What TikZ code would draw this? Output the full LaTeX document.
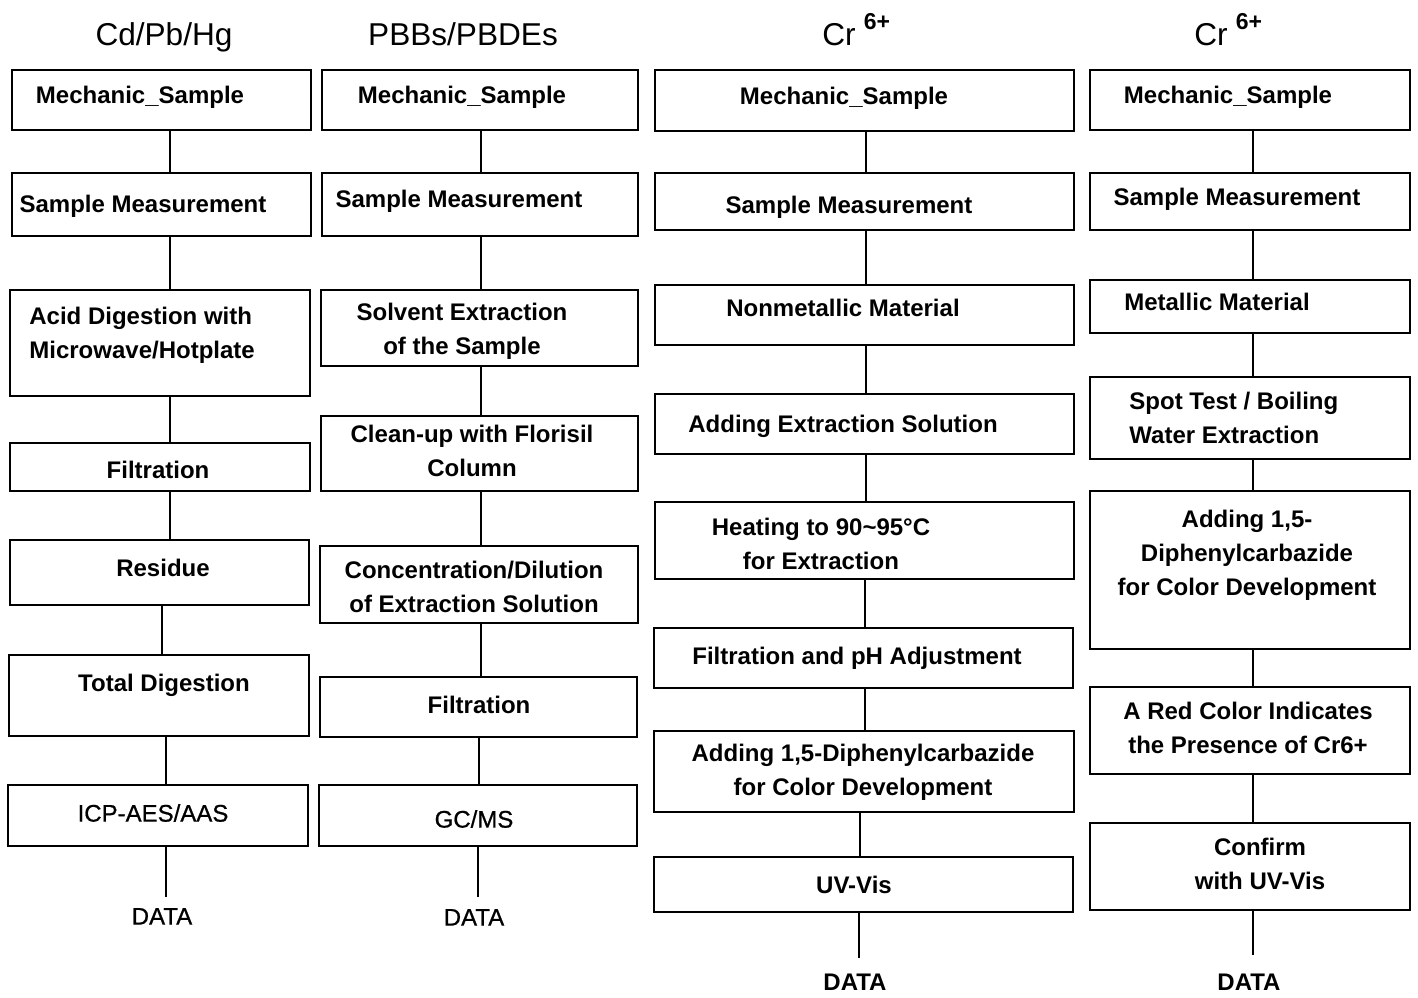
\documentclass[tikz,border=0pt]{standalone}
\usepackage{fontspec}
\setmainfont{Liberation Sans}
\newfontfamily\medfont[FakeBold=0.8]{Liberation Sans}
\usetikzlibrary{fit}
\tikzset{
  box/.style={draw, line width=0.8pt, inner sep=0pt, rectangle},
  txt/.style={font=\fontsize{12}{17}\selectfont\bfseries, inner sep=0pt, text height=8.6pt, text depth=0pt},
  mtxt/.style={font=\fontsize{12}{17}\selectfont\bfseries, inner sep=0pt, align=center},
  ltxt/.style={font=\fontsize{12}{17}\selectfont\bfseries, inner sep=0pt, align=left},
  rtxt/.style={font=\fontsize{12}{17}\selectfont\medfont, inner sep=0pt, text height=8.6pt, text depth=0pt},
  ttl/.style={font=\fontsize{15.8}{19}\selectfont, inner sep=0pt, text height=11.3pt, text depth=0pt},
  conn/.style={line width=0.6pt}
}
\begin{document}
\begin{tikzpicture}[x=0.5pt,y=-0.5pt]
\useasboundingbox (0,0) rectangle (1418,997);
% titles
\node[ttl] (h1) at (164,34) {Cd/Pb/Hg};
\node[ttl] (h2) at (463,34) {PBBs/PBDEs};
\node[ttl, anchor=west] (h3) at (822,34) {Cr\hspace{4pt}\raisebox{8pt}{\fontsize{11.5}{11.5}\selectfont\bfseries 6+}};
\node[ttl, anchor=west] (h4) at (1194,34) {Cr\hspace{4pt}\raisebox{8pt}{\fontsize{11.5}{11.5}\selectfont\bfseries 6+}};

% column 1
\node[box, fit={(12,70) (311,130)}] (a1) {};
\node[box, fit={(12,173) (311,236)}] (a2) {};
\node[box, fit={(10,290) (310,396)}] (a3) {};
\node[box, fit={(10,443) (310,491)}] (a4) {};
\node[box, fit={(10,540) (309,605)}] (a5) {};
\node[box, fit={(9,655) (309,736)}] (a6) {};
\node[box, fit={(8,785) (308,846)}] (a7) {};
\node[txt] (ta1) at (140,95) {Mechanic\_Sample};
\node[txt] (ta2) at (143,204) {Sample Measurement};
\node[ltxt, anchor=west] (ta3) at (29,335) {Acid Digestion with\\Microwave/Hotplate};
\node[txt] (ta4) at (158,470) {Filtration};
\node[txt] (ta5) at (163,568) {Residue};
\node[txt] (ta6) at (164,683) {Total Digestion};
\node[rtxt] (ta7) at (153,813) {ICP-AES/AAS};
\node[rtxt] (ta8) at (162,916) {DATA};
\coordinate (la) at (170,0);
\coordinate (lb) at (166,0);
\coordinate (ea) at (166,897);
\draw[conn] (a1.south -| la) -- (a2.north -| la);
\draw[conn] (a2.south -| la) -- (a3.north -| la);
\draw[conn] (a3.south -| la) -- (a4.north -| la);
\draw[conn] (a4.south -| la) -- (a5.north -| la);
\draw[conn] ([xshift=-4pt]a5.south -| la) -- ([xshift=-4pt]a6.north -| la);
\draw[conn] (a6.south -| lb) -- (a7.north -| lb);
\draw[conn] (a7.south -| ea) -- (ea);

% column 2
\node[box, fit={(322,70) (638,130)}] (b1) {};
\node[box, fit={(322,173) (638,236)}] (b2) {};
\node[box, fit={(321,290) (638,366)}] (b3) {};
\node[box, fit={(321,416) (638,491)}] (b4) {};
\node[box, fit={(320,546) (638,623)}] (b5) {};
\node[box, fit={(320,677) (637,737)}] (b6) {};
\node[box, fit={(319,785) (637,846)}] (b7) {};
\node[txt] (tb1) at (462,95) {Mechanic\_Sample};
\node[txt] (tb2) at (459,199) {Sample Measurement};
\node[mtxt] (tb3) at (462,331) {Solvent Extraction\\of the Sample};
\node[mtxt] (tb4) at (472,451) {Clean-up with Florisil\\Column};
\node[mtxt] (tb5) at (474,587) {Concentration/Dilution\\of Extraction Solution};
\node[txt] (tb6) at (479,705) {Filtration};
\node[rtxt] (tb7) at (474,819) {GC/MS};
\node[rtxt] (tb8) at (474,917) {DATA};
\coordinate (lc) at (481,0);
\coordinate (ld) at (479,0);
\coordinate (eb) at (478,897);
\draw[conn] (b1.south -| lc) -- (b2.north -| lc);
\draw[conn] (b2.south -| lc) -- (b3.north -| lc);
\draw[conn] (b3.south -| lc) -- (b4.north -| lc);
\draw[conn] (b4.south -| lc) -- (b5.north -| lc);
\draw[conn] (b5.south -| lc) -- (b6.north -| lc);
\draw[conn] (b6.south -| ld) -- (b7.north -| ld);
\draw[conn] (b7.south -| eb) -- (eb);

% column 3
\node[box, fit={(655,70) (1074,131)}] (c1) {};
\node[box, fit={(655,173) (1074,230)}] (c2) {};
\node[box, fit={(655,285) (1074,345)}] (c3) {};
\node[box, fit={(655,394) (1074,454)}] (c4) {};
\node[box, fit={(655,502) (1074,579)}] (c5) {};
\node[box, fit={(654,628) (1073,688)}] (c6) {};
\node[box, fit={(654,731) (1074,812)}] (c7) {};
\node[box, fit={(654,857) (1073,912)}] (c8) {};
\node[txt] (tc1) at (844,96) {Mechanic\_Sample};
\node[txt] (tc2) at (849,205) {Sample Measurement};
\node[txt] (tc3) at (843,308) {Nonmetallic Material};
\node[txt] (tc4) at (843,424) {Adding Extraction Solution};
\node[mtxt] (tc5) at (821,544) {Heating to 90\textasciitilde95°C\\for Extraction};
\node[txt] (tc6) at (857,656) {Filtration and pH Adjustment};
\node[mtxt] (tc7) at (863,772) {Adding 1,5-Diphenylcarbazide\\for Color Development};
\node[txt] (tc8) at (854,885) {UV-Vis};
\node[txt] (tc9) at (855,982) {DATA};
\coordinate (le) at (866,0);
\coordinate (lf) at (865,0);
\coordinate (lg) at (860,0);
\coordinate (ec) at (859,958);
\draw[conn] (c1.south -| le) -- (c2.north -| le);
\draw[conn] (c2.south -| le) -- (c3.north -| le);
\draw[conn] (c3.south -| le) -- (c4.north -| le);
\draw[conn] (c4.south -| le) -- (c5.north -| le);
\draw[conn] (c5.south -| lf) -- (c6.north -| lf);
\draw[conn] (c6.south -| lf) -- (c7.north -| lf);
\draw[conn] (c7.south -| lg) -- (c8.north -| lg);
\draw[conn] (c8.south -| ec) -- (ec);

% column 4
\node[box, fit={(1090,70) (1410,130)}] (d1) {};
\node[box, fit={(1090,173) (1410,230)}] (d2) {};
\node[box, fit={(1090,280) (1410,333)}] (d3) {};
\node[box, fit={(1090,377) (1410,459)}] (d4) {};
\node[box, fit={(1090,491) (1410,649)}] (d5) {};
\node[box, fit={(1090,687) (1410,774)}] (d6) {};
\node[box, fit={(1090,823) (1410,910)}] (d7) {};
\node[txt] (td1) at (1228,95) {Mechanic\_Sample};
\node[txt] (td2) at (1237,197) {Sample Measurement};
\node[txt] (td3) at (1217,302) {Metallic Material};
\node[ltxt, anchor=west] (td4) at (1129,418) {Spot Test / Boiling\\Water Extraction};
\node[mtxt] (td5) at (1247,555) {Adding 1,5-\\Diphenylcarbazide\\for Color Development};
\node[mtxt] (td6) at (1248,728) {A Red Color Indicates\\the Presence of Cr6+};
\node[mtxt] (td7) at (1260,864) {Confirm\\with UV-Vis};
\node[txt] (td8) at (1249,982) {DATA};
\coordinate (lh) at (1253,0);
\coordinate (ed) at (1253,955);
\draw[conn] (d1.south -| lh) -- (d2.north -| lh);
\draw[conn] (d2.south -| lh) -- (d3.north -| lh);
\draw[conn] (d3.south -| lh) -- (d4.north -| lh);
\draw[conn] (d4.south -| lh) -- (d5.north -| lh);
\draw[conn] (d5.south -| lh) -- (d6.north -| lh);
\draw[conn] (d6.south -| lh) -- (d7.north -| lh);
\draw[conn] (d7.south -| ed) -- (ed);
\end{tikzpicture}
\end{document}
